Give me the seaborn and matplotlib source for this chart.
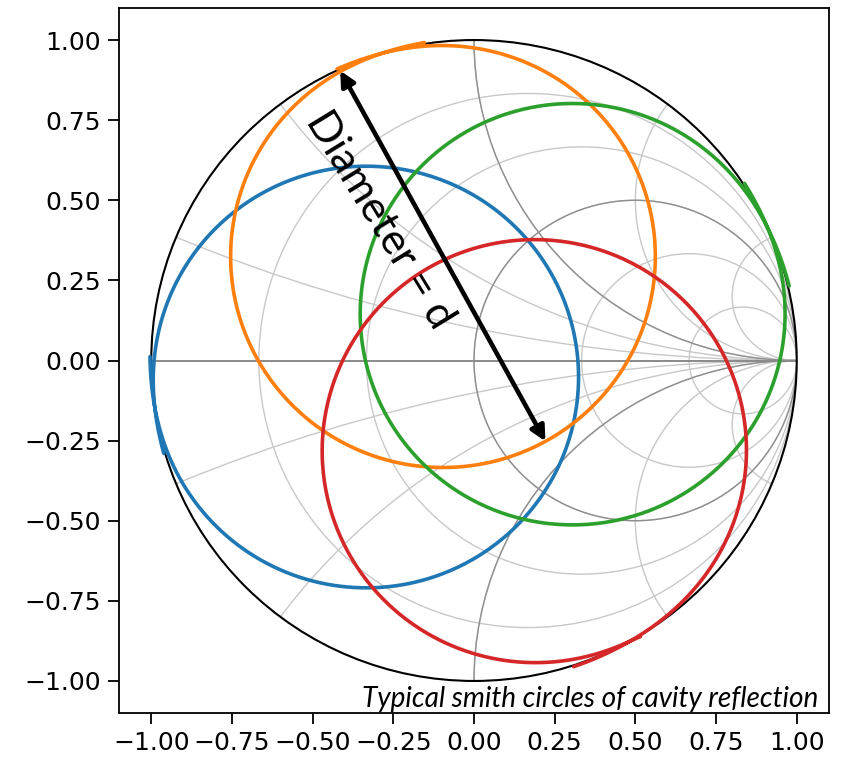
import numpy as np
import pandas as pd
import matplotlib
matplotlib.use("Agg")
import matplotlib.pyplot as plt
from matplotlib.patches import Circle, FancyArrowPatch
import seaborn as sns

# ---------------- data ----------------
series_names = ["blue", "orange", "green", "red"]
phase_deg = [188.8, 106.5, 25.4, -56.1]      # direction of the off-resonance point
diameter = [1.32, 1.32, 1.32, 1.32]          # circle diameter d
tail_start_deg = [8.0, 8.5, 8.0, -3.0]       # sweep start, relative to phase
tail_end_deg = [-9.5, -7.7, -12.0, -16.0]    # sweep end, relative to phase
tail_gain = [0.0045, 0.0045, 0.0045, 0.0045] # |S| slightly above 1 at the sweep ends
colors = ["#1f77b4", "#ff7f0e", "#2ca02c", "#d62728"]

r_light = [0.2, 0.5, 1.0, 2.0, 5.0]
x_light = [0.2, 0.5, 1.0, 2.0, 5.0, -0.2, -0.5, -1.0, -2.0, -5.0]
r_heavy = [1.0]
x_heavy = [1.0, -1.0]

tick_values = [-1.00, -0.75, -0.50, -0.25, 0.00, 0.25, 0.50, 0.75, 1.00]
arrow_series = "orange"
arrow_angle_deg = 118.8
label_text = "Diameter = d"
label_pos = (-0.292, 0.44)
label_rot = -58.5
caption = "Typical smith circles of cavity reflection"

# ---------------- build curves ----------------
T = 30.0
t = np.linspace(-T, T, 4001)
rows = []
for name, ph, d, a1, a2, g in zip(series_names, phase_deg, diameter,
                                  tail_start_deg, tail_end_deg, tail_gain):
    edge = np.rad2deg(d / T)
    th = np.where(t < 0, (a1 + edge) * (-t / T), (a2 - edge) * (t / T))
    amp = 1 + g * np.abs(t) / T
    s = amp * np.exp(1j * np.deg2rad(ph + th)) * (1 - d / (1 + 1j * t))
    rows.append(pd.DataFrame({"re": s.real, "im": s.imag, "series": name}))
df = pd.concat(rows, ignore_index=True)

# ---------------- figure ----------------
sns.set_style("ticks")
plt.rcParams["font.family"] = ["DejaVu Sans"]
plt.rcParams["text.color"] = "black"
fig = plt.figure(figsize=(8.48, 7.58), dpi=100)
ax = fig.add_axes([119 / 848, (758 - 713) / 758, 710 / 848, 705 / 758])

clip = Circle((0, 0), 1, ec="black", fc="none", lw=1.5, zorder=3)
ax.add_patch(clip)

for r in r_light:
    c = Circle((r / (1 + r), 0), 1 / (1 + r), ec="#c8c8c8", fc="none", lw=1.0, zorder=1)
    ax.add_patch(c); c.set_clip_path(clip)
for x in x_light:
    c = Circle((1, 1 / x), abs(1 / x), ec="#c8c8c8", fc="none", lw=1.0, zorder=1)
    ax.add_patch(c); c.set_clip_path(clip)
for r in r_heavy:
    c = Circle((r / (1 + r), 0), 1 / (1 + r), ec="#8f8f8f", fc="none", lw=1.0, zorder=1.5)
    ax.add_patch(c); c.set_clip_path(clip)
for x in x_heavy:
    c = Circle((1, 1 / x), abs(1 / x), ec="#8f8f8f", fc="none", lw=1.0, zorder=1.5)
    ax.add_patch(c); c.set_clip_path(clip)
ax.plot([-1, 1], [0, 0], color="#8a8a8a", lw=1.4, zorder=1.5)

sns.lineplot(data=df, x="re", y="im", hue="series", units="series", estimator=None,
             sort=False, palette=dict(zip(series_names, colors)), lw=2.6,
             legend=False, ax=ax, zorder=4)

# arrow across the diameter of one circle
i = series_names.index(arrow_series)
d = diameter[i]
cen = (1 - d / 2) * np.exp(1j * np.deg2rad(phase_deg[i]))
u = np.exp(1j * np.deg2rad(arrow_angle_deg))
p1 = cen + d / 2 * u
p2 = cen - d / 2 * u
ax.add_patch(FancyArrowPatch((p1.real, p1.imag), (p2.real, p2.imag),
                             arrowstyle="<|-|>", mutation_scale=22, lw=3.3,
                             color="black", shrinkA=0, shrinkB=0, zorder=6))
ax.text(label_pos[0], label_pos[1], label_text, rotation=label_rot,
        rotation_mode="anchor", ha="center", va="center", fontsize=31,
        color="black", family=["Lato", "DejaVu Sans"], zorder=7)

ax.text(0.985, 0.009, caption, transform=ax.transAxes, ha="right", va="baseline",
        fontsize=20.2, style="italic", color="black",
        family=["Lato", "DejaVu Sans"], zorder=7)

ax.set_xlim(-1.1, 1.1)
ax.set_ylim(-1.1, 1.1)
ax.set_xlabel("")
ax.set_ylabel("")
ax.set_xticks(tick_values)
ax.set_yticks(tick_values)
ax.set_xticklabels([f"{v:.2f}".replace("-", "\u2212") for v in tick_values])
ax.set_yticklabels([f"{v:.2f}".replace("-", "\u2212") for v in tick_values])
ax.tick_params(labelsize=18, length=8, width=1.3, pad=5, colors="black")
for sp in ax.spines.values():
    sp.set_linewidth(1.3)
    sp.set_color("black")
    sp.set_visible(True)

fig.savefig("out.png", dpi=100)
